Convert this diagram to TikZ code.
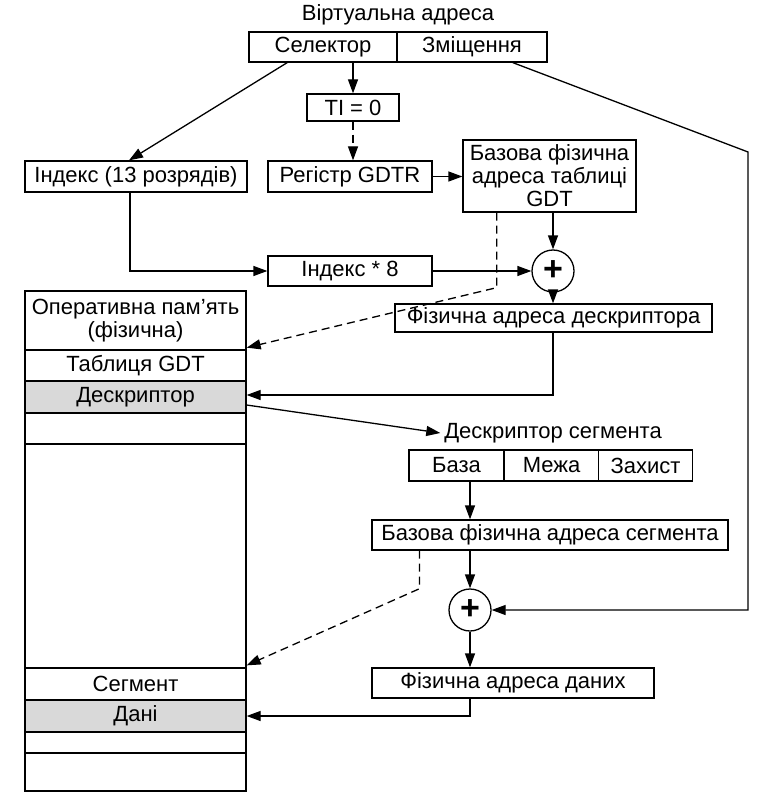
\documentclass[tikz,border=0pt]{standalone}
\usepackage{fontspec}
\setmainfont{Liberation Sans}
\usetikzlibrary{arrows.meta,calc}
\begin{document}
\begin{tikzpicture}[x=1pt,y=-1pt,
  font=\fontsize{22}{23}\selectfont,
  line width=1.3pt,
  bx/.style={draw, inner sep=0pt, anchor=center},
  cell/.style={draw, inner sep=0pt, anchor=center, minimum width=221pt},
  shaded/.style={fill=gray!30},
  arr/.style={-{Triangle[length=14pt,width=10pt]}},
  dsh/.style={dash pattern=on 8pt off 5pt},
  sumnode/.style={draw, circle, inner sep=0pt, minimum size=42pt, font=\fontsize{34}{34}\selectfont\bfseries}]
\useasboundingbox (0,0) rectangle (771,802);
\fill[white] (0,0) rectangle (771,802);

% top
\node (title) at (398,15) {Віртуальна адреса};
\node[bx, minimum width=148pt, minimum height=30pt] (sel) at (323,47) {Селектор};
\node[bx, minimum width=150pt, minimum height=30pt] (zm) at (472,47) {Зміщення};
\node[bx, minimum width=92pt, minimum height=27pt] (ti) at (353,107.5) {TI = 0};

\node[bx, minimum width=222pt, minimum height=31pt] (idx) at (136,176.5) {Індекс (13 розрядів)};
\node[bx, minimum width=164pt, minimum height=31pt] (gdtr) at (350,176.5) {Регістр GDTR};
\node[bx, minimum width=173pt, minimum height=72pt, align=center] (base) at (549.5,176) {Базова фізична\\адреса таблиці\\GDT};
\node[bx, minimum width=164pt, minimum height=30pt] (idx8) at (350,271) {Індекс * 8};
\node[sumnode] (p1) at (553,271) {+};
\node[bx, minimum width=317pt, minimum height=28pt] (fad) at (553.5,318) {Фізична адреса дескриптора};

% memory
\node[cell, minimum height=59pt, align=center] (r0) at (135.5,320.5) {Оперативна пам’ять\\(фізична)};
\node[cell, minimum height=31pt] (r1) at (135.5,365.5) {Таблиця GDT};
\node[cell, shaded, minimum height=32pt] (r2) at (135.5,397) {Дескриптор};
\node[cell, minimum height=31pt] (r3) at (135.5,428.5) {};
\node[cell, minimum height=224pt] (r4) at (135.5,556) {};
\node[cell, minimum height=32pt] (r5) at (135.5,684) {Сегмент};
\node[cell, shaded, minimum height=32pt] (r6) at (135.5,716) {Дані};
\node[cell, minimum height=21pt] (r7) at (135.5,742.5) {};
\node[cell, minimum height=38pt] (r8) at (135.5,772) {};

% descriptor
\node (dseg) at (553,433) {Дескриптор сегмента};
\node[bx, minimum width=95pt, minimum height=31pt] (baza) at (456.5,465.5) {База};
\node[bx, minimum width=94pt, minimum height=31pt] (mezha) at (551.5,465.5) {Межа};
\node[bx, minimum width=94pt, minimum height=31pt] (zah) at (645.5,465.5) {Захист};
\node[bx, minimum width=356pt, minimum height=30pt] (bfas) at (550,535) {Базова фізична адреса сегмента};
\node[sumnode] (p2) at (470,610) {+};
\node[bx, minimum width=282pt, minimum height=30pt] (fda) at (513,683) {Фізична адреса даних};

% connectors
\draw[arr] ($(sel.south west)!0.26!(sel.south east)$) -- ($(idx.north)+(-7,0)$);
\draw[arr] (ti.north |- sel.south) -- (ti.north);
\draw[arr,dsh] (ti.south) -- (ti.south |- gdtr.north);
\draw[arr] (gdtr.east) -- (gdtr.east -| base.west);
\draw[arr] (p1.north |- base.south) -- (p1.north);
\coordinate (d1) at ($(base.south west)!0.197!(base.south east)$);
\draw[arr,dsh] (d1) -- ($(d1)+(0,75)$) -- ($(r0.south east)+(0,-3)$);
\draw[arr] ($(idx.south)+(-6,0)$) |- (idx8.west);
\draw[arr] (idx8.east) -- (p1.west);
\draw[arr] (p1.south) -- (p1.south |- fad.north);
\draw[arr] (fad.south -| p1) |- ($(r2.east)+(0,-2)$);
\draw[arr] ($(r2.east)+(0,8)$) -- (dseg.west);
\draw[arr] (baza.south -| p2) -- (p2.north |- bfas.north);
\draw[arr] (bfas.south -| p2) -- (p2.north);
\coordinate (d2) at ($(bfas.south west)!0.135!(bfas.south east)$);
\draw[arr,dsh] (d2) -- ($(d2)+(0,38)$) -- ($(r5.north east)+(0,-2)$);
\coordinate (z1) at ($(zm.south west)!0.77!(zm.south east)$);
\coordinate (rt) at (748,152);
\draw[arr] (z1) -- (rt) |- (p2.east);
\draw[arr] (p2.south) -- (p2.south |- fda.north);
\draw[arr] (fda.south -| p2) |- (r6.east);
\end{tikzpicture}
\end{document}
